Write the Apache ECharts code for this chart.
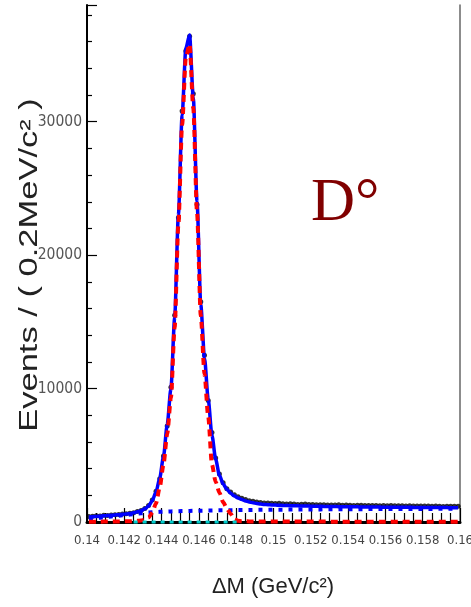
<!DOCTYPE html>
<html>
<head>
<meta charset="utf-8">
<script src="https://cdn.jsdelivr.net/npm/echarts@6/dist/echarts.min.js"></script>
<style>
html,body{margin:0;padding:0;background:#fff;}
#chart{width:471px;height:607px;}
</style>
</head>
<body>
<div id="chart"></div>
<script>
// ---- data (bins of 0.2 MeV/c^2, from 0.140 to 0.160 GeV/c^2) ----
const binLow = 0.14;
const binWidth = 0.0002;
const xTickLabels = ['0.14','0.142','0.144','0.146','0.148','0.15','0.152','0.154','0.156','0.158','0.16'];
const yTickLabels = [0, 10000, 20000, 30000];

const dataCounts = [
  420, 430, 470, 450, 500, 490, 530, 540, 560, 600,
  620, 660, 700, 790, 860, 1010, 1230, 1650, 2300, 3250,
  4950, 7200, 10100, 15500, 22800, 30800, 35300, 36400, 32100, 23800,
  16500, 12500, 9100, 6700, 4800, 3600, 2950, 2500, 2250, 2050,
  1900, 1780, 1690, 1600, 1560, 1500, 1460, 1430, 1420, 1400,
  1390, 1400, 1370, 1350, 1360, 1345, 1320, 1330, 1340, 1315,
  1310, 1290, 1300, 1290, 1270, 1280, 1275, 1290, 1260, 1265,
  1260, 1240, 1250, 1260, 1245, 1230, 1240, 1235, 1220, 1230,
  1225, 1235, 1210, 1215, 1225, 1200, 1210, 1205, 1190, 1200,
  1195, 1205, 1180, 1190, 1185, 1170, 1180, 1185, 1175, 1180
];

const fitTotal = [
  380, 400, 420, 440, 460, 480, 500, 525, 550, 575,
  605, 640, 690, 760, 850, 990, 1200, 1600, 2250, 3300,
  4900, 7300, 10000, 15300, 23000, 30500, 35500, 36500, 31800, 24000,
  16300, 12300, 9200, 6500, 4700, 3500, 2850, 2450, 2150, 1950,
  1800, 1680, 1580, 1500, 1440, 1390, 1350, 1320, 1300, 1280,
  1265, 1255, 1245, 1235, 1225, 1218, 1210, 1203, 1197, 1191,
  1185, 1180, 1175, 1170, 1165, 1160, 1156, 1152, 1148, 1144,
  1140, 1137, 1134, 1131, 1128, 1125, 1122, 1119, 1116, 1113,
  1110, 1108, 1106, 1104, 1102, 1100, 1098, 1096, 1094, 1092,
  1090, 1088, 1086, 1084, 1082, 1080, 1078, 1076, 1074, 1072
];

const fitSignal = [
  20, 20, 25, 25, 30, 30, 35, 40, 45, 50,
  55, 60, 70, 85, 110, 170, 330, 700, 1400, 2600,
  4300, 6600, 9300, 14600, 22300, 29800, 34800, 35800, 31000, 23200,
  15500, 11100, 7900, 4300, 3000, 2200, 1500, 1000, 620, 220,
  90, 60, 50, 45, 40, 40, 40, 38, 38, 36,
  36, 35, 35, 34, 34, 33, 33, 32, 32, 31,
  31, 30, 30, 29, 29, 28, 28, 27, 27, 26,
  26, 26, 25, 25, 25, 24, 24, 24, 23, 23,
  23, 22, 22, 22, 22, 21, 21, 21, 21, 20,
  20, 20, 20, 20, 20, 20, 20, 20, 20, 20
];

const fitBackground = [
  230, 260, 290, 320, 350, 380, 410, 440, 470, 500,
  530, 560, 590, 620, 650, 680, 705, 725, 745, 760,
  775, 785, 795, 805, 812, 820, 826, 832, 838, 844,
  850, 855, 860, 865, 870, 874, 878, 882, 886, 890,
  893, 896, 899, 902, 905, 908, 911, 914, 917, 920,
  922, 924, 926, 928, 930, 932, 934, 936, 938, 940,
  942, 944, 946, 948, 950, 952, 954, 956, 958, 960,
  961, 962, 963, 964, 965, 966, 967, 968, 969, 970,
  971, 972, 973, 974, 975, 976, 977, 978, 979, 980,
  981, 982, 983, 984, 985, 986, 987, 988, 989, 990
];

// small component near zero between 0.1425 and 0.1481
const cyanX = [0.1425, 0.1435, 0.1445, 0.1455, 0.1465, 0.1475, 0.1481];
const cyanY = [0, 0, 0, 0, 0, 0, 0];

// ---- build ----
function centers(arr){ return arr.map((v,i)=>[+(binLow + binWidth*(i+0.5)).toFixed(5), v]); }

const labelFont = "'Liberation Sans Narrow','DejaVu Sans Condensed','Liberation Sans',Arial,sans-serif";

const chart = echarts.init(document.getElementById('chart'), null, {renderer:'canvas'});
chart.setOption({
  animation: false,
  backgroundColor: '#fff',
  grid: {left: 87, right: 11, top: 5, bottom: 85, containLabel: false, outerBoundsMode: 'none'},
  xAxis: [{
    type: 'value', min: 0.14, max: 0.16, interval: 0.002,
    axisLine: {show: true, onZero: false, lineStyle: {color: '#000', width: 2}},
    axisTick: {show: true, inside: true, length: 14, lineStyle: {color: '#000', width: 1.2}},
    minorTick: {show: true, splitNumber: 4, length: 9, lineStyle: {color: '#000', width: 1.2}},
    splitLine: {show: false},
    axisLabel: {
      show: true, margin: 12, color: '#444', fontSize: 13, fontFamily: labelFont,
      showMinLabel: true, showMaxLabel: true, hideOverlap: false,
      formatter: v => { const i = Math.round((v - 0.14)/0.002); return xTickLabels[i] !== undefined ? xTickLabels[i] : ''; }
    }
  }, {
    type: 'value', position: 'top', min: 0.14, max: 0.16,
    axisLine: {show: true, lineStyle: {color: '#000', width: 3}},
    axisTick: {show: false}, axisLabel: {show: false}, splitLine: {show: false}
  }],
  yAxis: [{
    type: 'value', min: 0, max: 38750, interval: 10000,
    axisLine: {show: true, lineStyle: {color: '#000', width: 2}},
    axisTick: {show: true, inside: true, length: 10, lineStyle: {color: '#000', width: 1.2}},
    minorTick: {show: true, splitNumber: 5, length: 5, lineStyle: {color: '#000', width: 1.2}},
    splitLine: {show: false},
    axisLabel: {
      show: true, margin: 5, color: '#555', fontSize: 15.5, fontFamily: labelFont,
      showMaxLabel: false,
      formatter: v => yTickLabels.indexOf(v) >= 0 ? String(v) : ''
    }
  }, {
    type: 'value', position: 'right', min: 0, max: 38750,
    axisLine: {show: true, lineStyle: {color: '#666', width: 1.5}},
    axisTick: {show: false}, axisLabel: {show: false}, splitLine: {show: false}
  }],
  graphic: [
    {type: 'text', x: 30, y: 265, rotation: Math.PI/2, scaleX: 1.38, scaleY: 1, z: 100,
     style: {text: 'Events / ( 0.2MeV/c² )', font: "25px 'Liberation Sans', Arial, sans-serif", fill: '#222',
             textAlign: 'center', textVerticalAlign: 'middle', align: 'center', verticalAlign: 'middle'}},
    {type: 'text', x: 273, y: 587, z: 100,
     style: {text: 'ΔM (GeV/c²)', font: "22px 'Liberation Sans', Arial, sans-serif", fill: '#222',
             textAlign: 'center', textVerticalAlign: 'middle', align: 'center', verticalAlign: 'middle'}},
    {type: 'text', x: 311, y: 204, z: 100,
     style: {text: 'D°', font: "61px 'Liberation Serif', 'Times New Roman', serif", fill: '#800000',
             textAlign: 'left', textVerticalAlign: 'middle', align: 'left', verticalAlign: 'middle'}}
  ],
  series: [
    {type: 'scatter', name: 'data', data: centers(dataCounts), symbol: 'circle', symbolSize: 5,
     itemStyle: {color: '#000'}, z: 2, clip: false},
    {type: 'line', name: 'total', data: centers(fitTotal), showSymbol: false, smooth: 0.25, smoothMonotone: 'x',
     lineStyle: {color: '#0000ff', width: 3.5}, z: 3, clip: false},
    {type: 'line', name: 'background', data: centers(fitBackground), showSymbol: false,
     lineStyle: {color: '#0000ff', width: 4, type: [4, 6]}, z: 4, clip: false},
    {type: 'line', name: 'signal', data: centers(fitSignal), showSymbol: false, smooth: 0.25, smoothMonotone: 'x',
     lineStyle: {color: '#ff0000', width: 4, type: [7, 5]}, z: 5, clip: false},
    {type: 'line', name: 'other', data: cyanX.map((x,i)=>[x, cyanY[i]]), showSymbol: false,
     lineStyle: {color: '#00cccc', width: 3, type: [4, 5]}, z: 6, clip: false}
  ]
});
</script>
</body>
</html>
